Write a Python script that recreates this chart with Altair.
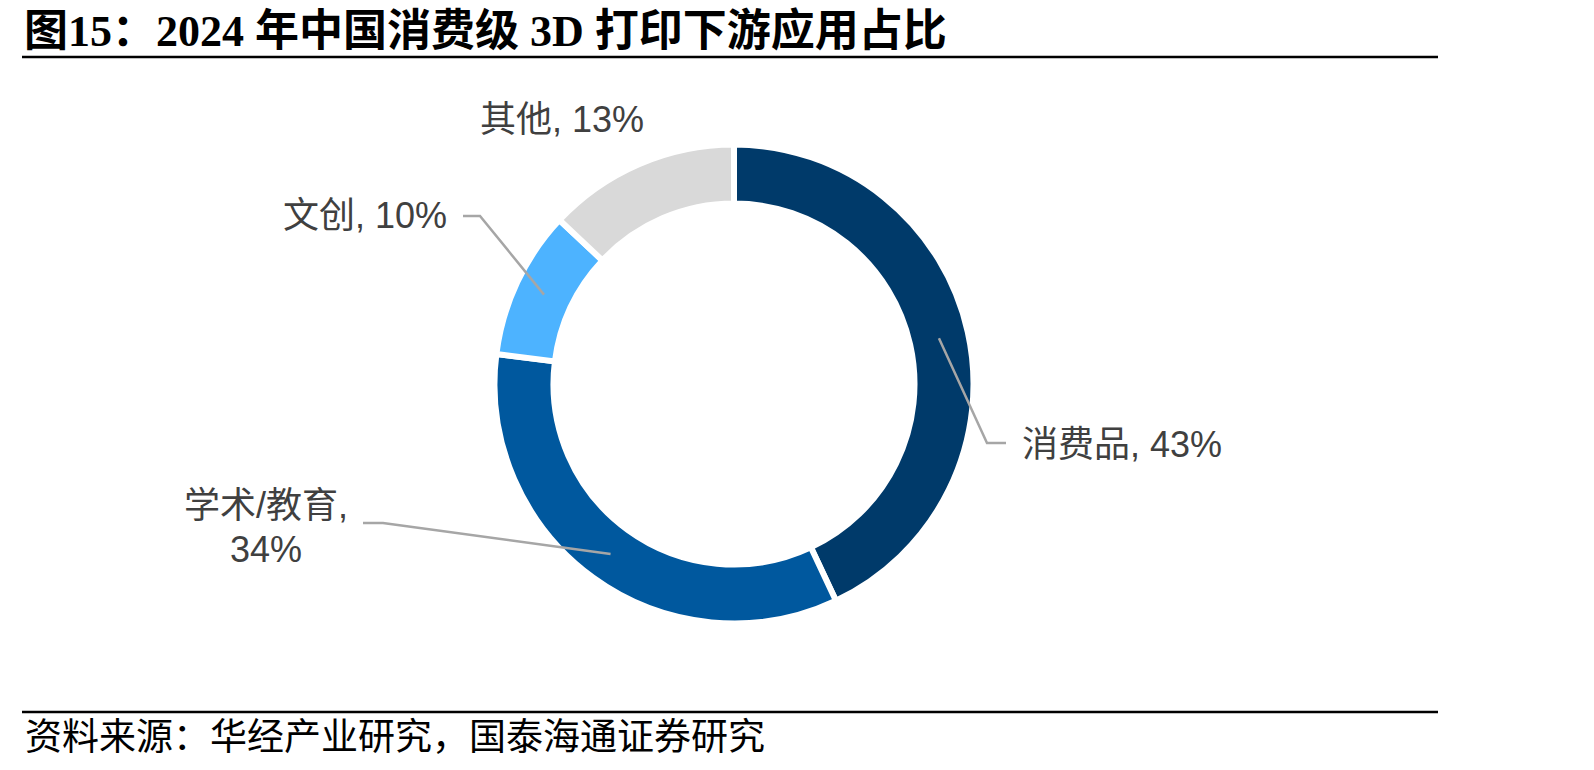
import math
import altair as alt
import pandas as pd

# ---- data ----
categories = ["消费品", "学术/教育", "文创", "其他"]
shares = [43, 34, 10, 13]
colors = ["#003A6A", "#00589E", "#4DB3FF", "#D9D9D9"]

title_text = "图15：2024 年中国消费级 3D 打印下游应用占比"
source_text = "资料来源：华经产业研究，国泰海通证券研究"

# ---- layout (pixels) ----
W, H = 1594, 770
CX, CY = 734, 384
R_OUT, R_IN = 236.5, 183.5
GAP = 6
R_MID = (R_OUT + R_IN) / 2

# per-category label placement: anchor x, anchor y, align, wrap, elbow, end (None = no leader)
label_x = [1022, 266, 447, 562]
label_y = [457, 518, 228, 132]
label_align = ["left", "center", "right", "center"]
label_wrap = [False, True, False, False]
elbow_pts = [(987, 443), (383, 523), (480, 216), None]
end_pts = [(1006, 443), (363, 523), (463, 216), None]

LABEL_FONT = "Liberation Sans, Noto Sans CJK SC, sans-serif"
TEXT_COLOR = "#404040"

# ---- build tables ----
total = sum(shares)
df = pd.DataFrame({"category": categories, "share": shares, "idx": list(range(len(categories)))})

leader_rows = []
cum = 0
for i, (cat, s) in enumerate(zip(categories, shares)):
    a = 2 * math.pi * (cum + s / 2) / total
    cum += s
    if elbow_pts[i] is None:
        continue
    sx = CX + R_MID * math.sin(a)
    sy = CY - R_MID * math.cos(a)
    pts = [(sx, sy), elbow_pts[i], end_pts[i]]
    for k, (px, py) in enumerate(pts):
        leader_rows.append({"category": cat, "step": k, "x": px, "y": py})
leaders = pd.DataFrame(leader_rows)

label_rows = []
for i, (cat, s) in enumerate(zip(categories, shares)):
    txt = f"{cat},\n{s}%" if label_wrap[i] else f"{cat}, {s}%"
    label_rows.append({"label": txt, "x": label_x[i], "y": label_y[i], "align": label_align[i]})
labels = pd.DataFrame(label_rows)

xs = alt.Scale(domain=[0, W], range=[0, W])
ys = alt.Scale(domain=[0, H], range=[0, H])

donut = alt.Chart(df).mark_arc(
    innerRadius=R_IN - GAP / 2, outerRadius=R_OUT + GAP / 2,
    stroke="white", strokeWidth=GAP,
).encode(
    theta=alt.Theta("share:Q", stack=True),
    color=alt.Color("category:N", scale=alt.Scale(domain=categories, range=colors), legend=None),
    order=alt.Order("idx:Q"),
    x=alt.value(CX),
    y=alt.value(CY),
)

leader_layer = alt.Chart(leaders).mark_line(color="#A6A6A6", strokeWidth=2.5).encode(
    x=alt.X("x:Q", scale=xs, axis=None),
    y=alt.Y("y:Q", scale=ys, axis=None),
    detail="category:N",
    order="step:Q",
)

label_layers = []
for al in ["left", "center", "right"]:
    sub = labels[labels["align"] == al]
    label_layers.append(
        alt.Chart(sub).mark_text(
            align=al, baseline="alphabetic", font=LABEL_FONT, fontSize=36,
            color=TEXT_COLOR, lineBreak="\n", lineHeight=44,
        ).encode(
            x=alt.X("x:Q", scale=xs, axis=None),
            y=alt.Y("y:Q", scale=ys, axis=None),
            text="label:N",
        )
    )

title = alt.Chart(pd.DataFrame({"t": [title_text]})).mark_text(
    align="left", baseline="alphabetic",
    font="Liberation Serif, Noto Sans CJK SC, serif", fontSize=44, fontWeight="bold", color="black",
).encode(x=alt.value(24), y=alt.value(46), text="t:N")

source = alt.Chart(pd.DataFrame({"t": [source_text]})).mark_text(
    align="left", baseline="alphabetic",
    font="Noto Sans CJK SC, sans-serif", fontSize=37, color="black",
).encode(x=alt.value(25), y=alt.value(750), text="t:N")

top_rule = alt.Chart(pd.DataFrame({"a": [0]})).mark_rule(color="black", strokeWidth=2.6).encode(
    x=alt.value(22), x2=alt.value(1438), y=alt.value(57))
bottom_rule = alt.Chart(pd.DataFrame({"a": [0]})).mark_rule(color="black", strokeWidth=2.6).encode(
    x=alt.value(22), x2=alt.value(1438), y=alt.value(712))

chart = alt.layer(
    donut, leader_layer, *label_layers, title, source, top_rule, bottom_rule
).properties(
    width=W, height=H, padding=0, background="white",
    autosize=alt.AutoSizeParams(type="none"),
).configure_view(stroke=None)

chart.save("out.html", embed_options={"renderer": "svg", "actions": False})
